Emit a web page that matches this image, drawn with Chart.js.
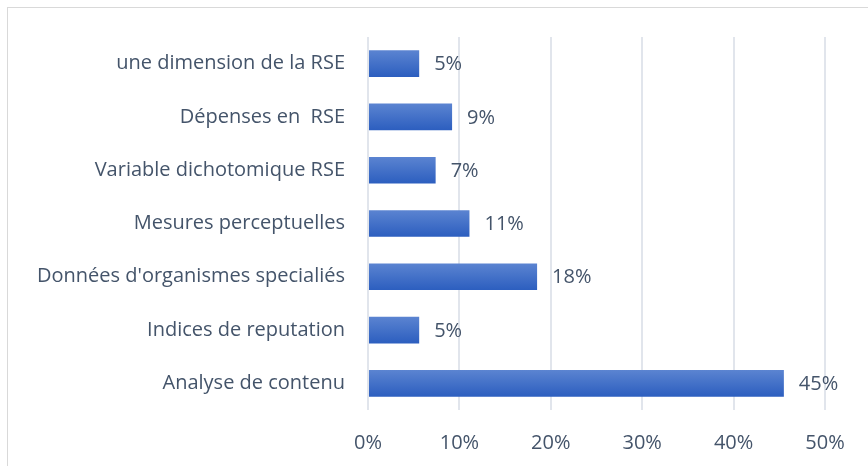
<!DOCTYPE html>
<html>
<head>
<meta charset="utf-8">
<script src="https://cdn.jsdelivr.net/npm/chart.js@4"></script>
<style>
  html, body { margin: 0; padding: 0; background: #fff; overflow: hidden; }
  #frame { position: absolute; left: 7px; top: 7px; width: 900px; height: 500px; border: 1px solid #d9d9d9; }
  #wrap { position: absolute; left: 0; top: 0; width: 868px; height: 466px; }
</style>
</head>
<body>
<div id="frame"></div>
<div id="wrap"><canvas id="myChart"></canvas></div>
<script>
const categories = [
    'une dimension de la RSE',
    'Dépenses en  RSE',
    'Variable dichotomique RSE',
    'Mesures perceptuelles',
    "Données d'organismes specialiés",
    'Indices de reputation',
    'Analyse de contenu'
];
const values = [5.6, 9.2, 7.4, 11.1, 18.5, 5.6, 45.5];
const valueLabels = ['5%', '9%', '7%', '11%', '18%', '5%', '45%'];
const xTicks = [0, 10, 20, 30, 40, 50];

const textColor = '#44546a';
const fontFamily = '"Open Sans", "Noto Sans", sans-serif';
const fontSize = 20;

// gradient fill for each bar, top light to bottom dark
const barGradient = {
    id: 'barGradient',
    beforeDatasetsDraw(chart) {
        const ctx = chart.ctx;
        chart.getDatasetMeta(0).data.forEach(bar => {
            const top = bar.y - bar.height / 2;
            const g = ctx.createLinearGradient(0, top, 0, top + bar.height);
            g.addColorStop(0, '#5b84d1');
            g.addColorStop(1, '#2c5ebf');
            bar.options = Object.assign({}, bar.options, { backgroundColor: g });
        });
    }
};

// value labels to the right of the bars
const valueLabelsPlugin = {
    id: 'valueLabels',
    afterDatasetsDraw(chart) {
        const ctx = chart.ctx;
        ctx.save();
        ctx.fillStyle = textColor;
        ctx.font = fontSize + 'px ' + fontFamily;
        ctx.textAlign = 'left';
        ctx.textBaseline = 'middle';
        chart.getDatasetMeta(0).data.forEach((bar, i) => {
            ctx.fillText(valueLabels[i], bar.x + 15, bar.y + 1);
        });
        ctx.restore();
    }
};

const ctx = document.getElementById('myChart');
new Chart(ctx, {
    type: 'bar',
    data: {
        labels: categories,
        datasets: [{
            data: values,
            backgroundColor: () => '#3f6fc8',
            barPercentage: 0.5,
            categoryPercentage: 1
        }]
    },
    plugins: [barGradient, valueLabelsPlugin],
    options: {
        indexAxis: 'y',
        responsive: true,
        maintainAspectRatio: false,
        animation: false,
        layout: { padding: { left: 0, right: 43, top: 37, bottom: 0 } },
        plugins: {
            legend: { display: false },
            tooltip: { enabled: false }
        },
        scales: {
            x: {
                min: 0,
                max: 50,
                afterBuildTicks(scale) {
                    scale.ticks = xTicks.map(v => ({ value: v }));
                },
                afterFit(scale) { scale.height = 56; },
                grid: { color: '#e1e5ec', lineWidth: 2, drawTicks: false },
                border: { display: false },
                ticks: {
                    padding: 21,
                    color: textColor,
                    font: { family: fontFamily, size: fontSize },
                    callback: v => v + '%'
                }
            },
            y: {
                afterFit(scale) { scale.width = 368; },
                grid: { display: false },
                border: { display: false },
                ticks: {
                    padding: 15,
                    color: textColor,
                    font: { family: fontFamily, size: fontSize }
                }
            }
        }
    }
});
</script>
</body>
</html>
